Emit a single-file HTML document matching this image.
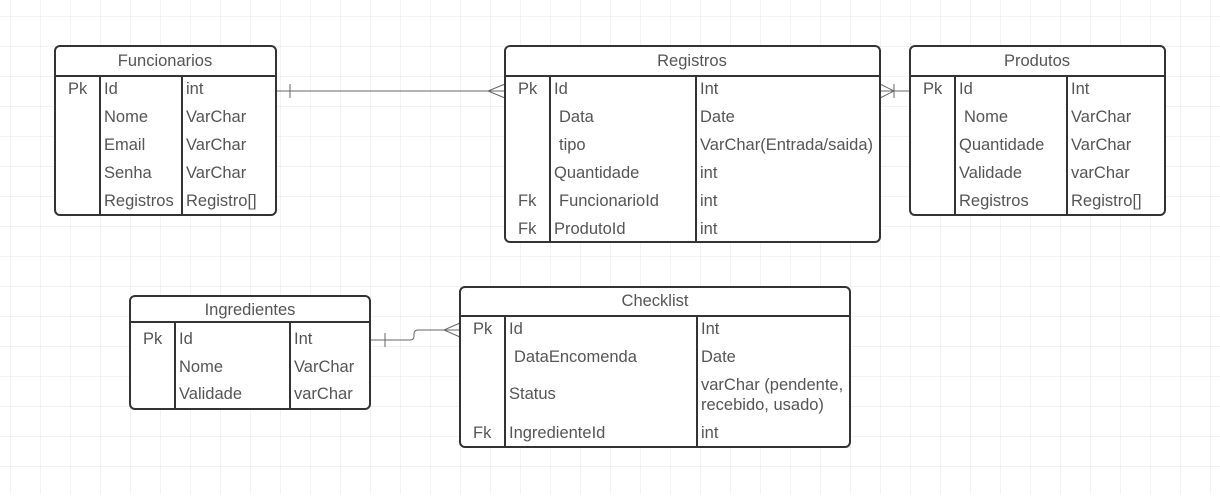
<!DOCTYPE html>
<html><head><meta charset="utf-8"><style>
html,body{margin:0;padding:0;background:#fff}
svg text{font-family:"Liberation Sans",Arial,sans-serif;font-size:16.5px;fill:#555}
</style></head><body>
<svg width="1220" height="494" viewBox="0 0 1220 494" xmlns="http://www.w3.org/2000/svg">
<defs><pattern id="g" x="10" y="16" width="30" height="30" patternUnits="userSpaceOnUse"><path d="M0 0H30M0 0V30" stroke="#e6e6e6" stroke-width="1" fill="none"/></pattern></defs>
<rect width="1220" height="494" fill="url(#g)"/>
<g fill="none" stroke="#666" stroke-width="1">
<path d="M276 91H505"/><path d="M290 84V98"/><path d="M505 84L488 91L505 98"/>
<path d="M880 91H910"/><path d="M894 84V98"/><path d="M880 84L894 91L880 98"/>
<path d="M370 340H410Q414 340 414 336V334Q414 330 418 330H460"/><path d="M385 333V347"/><path d="M460 323L444 330L460 337"/>
</g>
<g fill="#fff" stroke="#333" stroke-width="2">
<rect x="55" y="46" width="221" height="169" rx="5"/>
<rect x="505" y="46" width="375" height="196" rx="5"/>
<rect x="910" y="46" width="255" height="169" rx="5"/>
<rect x="130" y="296" width="240" height="113" rx="5"/>
<rect x="460" y="287" width="390" height="160" rx="5"/>
</g>
<g stroke="#333" stroke-width="2">
<path d="M55 76H276M100 76V215M182 76V215"/>
<path d="M505 76H880M550 76V242M696 76V242"/>
<path d="M910 76H1165M955 76V215M1067 76V215"/>
<path d="M130 322H370M175 322V409M290 322V409"/>
<path d="M460 316H850M505 316V447M697 316V447"/>
</g>
<g text-anchor="middle">
<text x="165" y="66">Funcionarios</text>
<text x="692" y="66">Registros</text>
<text x="1037" y="66">Produtos</text>
<text x="250" y="315">Ingredientes</text>
<text x="655" y="306">Checklist</text>
</g>
<text x="68" y="94">Pk</text>
<text x="104" y="94">Id</text><text x="186" y="94">int</text>
<text x="104" y="122">Nome</text><text x="186" y="122">VarChar</text>
<text x="104" y="150">Email</text><text x="186" y="150">VarChar</text>
<text x="104" y="178">Senha</text><text x="186" y="178">VarChar</text>
<text x="104" y="206">Registros</text><text x="186" y="206">Registro[]</text>

<text x="518" y="94">Pk</text>
<text x="554" y="94">Id</text><text x="700" y="94">Int</text>
<text x="559" y="122">Data</text><text x="700" y="122">Date</text>
<text x="559" y="150">tipo</text><text x="700" y="150">VarChar(Entrada/saida)</text>
<text x="554" y="178">Quantidade</text><text x="700" y="178">int</text>
<text x="518" y="206">Fk</text><text x="559" y="206">FuncionarioId</text><text x="700" y="206">int</text>
<text x="518" y="234">Fk</text><text x="554" y="234">ProdutoId</text><text x="700" y="234">int</text>

<text x="923" y="94">Pk</text>
<text x="959" y="94">Id</text><text x="1071" y="94">Int</text>
<text x="964" y="122">Nome</text><text x="1071" y="122">VarChar</text>
<text x="959" y="150">Quantidade</text><text x="1071" y="150">VarChar</text>
<text x="959" y="178">Validade</text><text x="1071" y="178">varChar</text>
<text x="959" y="206">Registros</text><text x="1071" y="206">Registro[]</text>

<text x="143" y="344">Pk</text>
<text x="179" y="344">Id</text><text x="294" y="344">Int</text>
<text x="179" y="372">Nome</text><text x="294" y="372">VarChar</text>
<text x="179" y="399">Validade</text><text x="294" y="399">varChar</text>

<text x="473" y="334">Pk</text>
<text x="509" y="334">Id</text><text x="701" y="334">Int</text>
<text x="514" y="362">DataEncomenda</text><text x="701" y="362">Date</text>
<text x="509" y="399">Status</text><text x="701" y="390">varChar (pendente,</text><text x="701" y="410">recebido, usado)</text>
<text x="473" y="438">Fk</text><text x="509" y="438">IngredienteId</text><text x="701" y="438">int</text>
</svg>
</body></html>
